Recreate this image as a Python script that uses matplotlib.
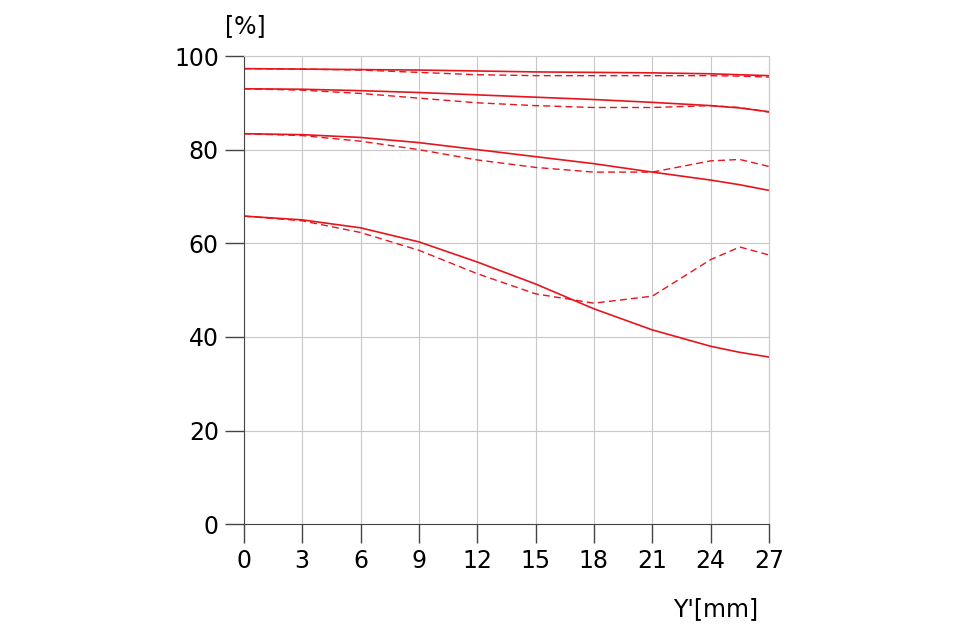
import matplotlib.pyplot as plt

# MTF curves
x = [0, 3, 6, 9, 12, 15, 18, 21, 24, 25.5, 27]
sag1 = [97.3, 97.2, 97.1, 97.0, 96.8, 96.6, 96.5, 96.4, 96.2, 96.0, 95.8]
mer1 = [97.3, 97.2, 97.0, 96.5, 96.0, 95.8, 95.8, 95.8, 95.8, 95.7, 95.5]
sag2 = [93.0, 92.9, 92.6, 92.2, 91.7, 91.2, 90.7, 90.1, 89.4, 88.9, 88.1]
mer2 = [93.0, 92.7, 92.0, 91.0, 90.0, 89.4, 89.0, 89.0, 89.4, 89.0, 88.0]
sag3 = [83.4, 83.2, 82.6, 81.5, 80.0, 78.5, 77.0, 75.2, 73.5, 72.5, 71.3]
mer3 = [83.4, 83.0, 81.8, 80.0, 77.8, 76.2, 75.2, 75.2, 77.6, 77.9, 76.4]
sag4 = [65.8, 65.0, 63.3, 60.3, 56.0, 51.3, 46.0, 41.5, 38.0, 36.7, 35.7]
mer4 = [65.8, 64.8, 62.3, 58.5, 53.5, 49.2, 47.2, 48.7, 56.5, 59.2, 57.5]

xticks = list(range(0, 28, 3))
yticks = list(range(0, 101, 20))

fig = plt.figure(figsize=(9.6, 6.4), dpi=100)
ax = fig.add_axes([0.254, 0.181, 0.547, 0.7315])

for s, m in [(sag1, mer1), (sag2, mer2), (sag3, mer3), (sag4, mer4)]:
    ax.plot(x, s, color='#e8141c', lw=1.2)
    ax.plot(x, m, color='#e8141c', lw=1.0, ls=(0, (5, 3)))

ax.set_xlim(0, 27)
ax.set_ylim(0, 100)
ax.set_xticks(xticks)
ax.set_yticks(yticks)
ax.grid(color='#c8c8c8', lw=0.8)
ax.set_axisbelow(True)
for side in ['top', 'right']:
    ax.spines[side].set_color('#c8c8c8')
for side in ['left', 'bottom']:
    ax.spines[side].set_color('#444444')
ax.tick_params(direction='out', length=14, width=1, color='#444444',
               labelsize=17, pad=4)

fig.text(0.254 - 0.02, 0.94, '[%]', fontsize=17, ha='left', va='bottom')
fig.text(0.79, 0.03, "Y'[mm]", fontsize=17, ha='right', va='bottom')

fig.savefig('out.png')
